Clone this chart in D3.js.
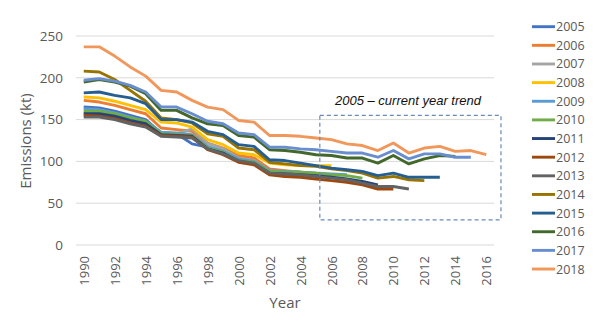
<!DOCTYPE html>
<html>
<head>
<meta charset="utf-8">
<script src="https://cdn.jsdelivr.net/npm/d3@7"></script>
<style>
  body { margin: 0; background: #fff; }
  text { font-family: "Open Sans", "Liberation Sans", sans-serif; }
</style>
</head>
<body>
<div id="main"></div>
<script>
  // inventory submissions, each runs 1990 .. (submission - 2)
  var submissions = [2005, 2006, 2007, 2008, 2009, 2010, 2011, 2012, 2013, 2014, 2015, 2016, 2017, 2018];
  var colors = ["#4472C4", "#ED7D31", "#A5A5A5", "#FFC000", "#5B9BD5", "#70AD47", "#264478",
                "#9E480E", "#636363", "#997300", "#255E91", "#43682B", "#698ED0", "#F1975A"];
  var firstYear = 1990;
  var yTicks = [0, 50, 100, 150, 200, 250];
  var xTicks = [1990, 1992, 1994, 1996, 1998, 2000, 2002, 2004, 2006, 2008, 2010, 2012, 2014, 2016];

  var s2005 = [165,164,160,155,150,134,133,121,117,112,103,100,88,86];
  var s2006 = [173,171,167,162,157,140,138,136,122,116,107,104,91,89,87];
  var s2007 = [158,157,154,149,144,132,133,139,122,115,104,101,89,88,87,86];
  var s2008 = [177,176,172,167,162,147,146,141,126,120,110,108,98,96,95,95,95];
  var s2009 = [163,162,158,153,148,135,134,132,118,112,103,100,89,88,87,86,85,84];
  var s2010 = [160,160,157,152,148,133,132,131,116,111,101,99,88,87,87,86,84,83,80];
  var s2011 = [157,157,154,149,145,132,131,130,115,110,100,97,86,85,84,83,81,79,76,72];
  var s2012 = [155,154,151,146,142,131,130,129,114,108,99,96,84,82,81,79,77,75,72,67,67];
  var s2013 = [153,153,150,145,141,130,129,128,115,109,101,98,86,85,84,82,80,78,74,70,70,67];
  var s2014 = [208,207,198,185,172,152,150,146,133,130,116,114,99,97,95,94,91,89,86,80,82,78,77];
  var s2015 = [182,183,179,176,169,150,150,147,136,132,120,118,102,101,98,95,92,90,88,83,86,81,81,81];
  var s2016 = [195,198,195,190,181,161,161,152,145,143,131,129,114,113,111,108,107,104,104,98,107,97,103,107,106];
  var s2017 = [197,199,196,191,183,165,165,157,148,145,134,132,117,117,115,114,112,110,110,105,113,103,109,109,105,105];
  var s2018 = [237,237,226,213,202,185,183,173,165,162,149,147,131,131,130,128,126,121,119,113,122,110,116,118,112,113,108];

  var series = [s2005, s2006, s2007, s2008, s2009, s2010, s2011, s2012, s2013, s2014, s2015, s2016, s2017, s2018];

  // dashed "trend" box: years and kt
  var boxYears = [2005.25, 2016.95];
  var boxKt = [30, 155];

  var svg = d3.select("#main").append("svg")
      .attr("width", 600)
      .attr("height", 334);

  var x = d3.scaleLinear().domain([1989.5, 2016.5]).range([76, 494]);
  var y = d3.scaleLinear().domain([0, 250]).range([245, 36]);

  // gridlines
  svg.append("g").selectAll("line")
      .data(yTicks)
      .enter().append("line")
      .attr("x1", x(1989.5))
      .attr("x2", x(2016.5))
      .attr("y1", function(d) { return y(d); })
      .attr("y2", function(d) { return y(d); })
      .attr("stroke", "#d9d9d9")
      .attr("stroke-width", 1);

  // y axis
  var yAxis = svg.append("g")
      .attr("transform", "translate(" + x(1989.5) + ",0)")
      .call(d3.axisLeft(y).tickValues(yTicks).tickSize(0).tickPadding(13));
  yAxis.select(".domain").remove();
  yAxis.selectAll("text")
      .attr("fill", "#595959")
      .style("font-size", "13.5px")
      .style("font-family", "Open Sans, sans-serif");

  // x axis
  var xAxis = svg.append("g")
      .attr("transform", "translate(0," + y(0) + ")")
      .call(d3.axisBottom(x).tickValues(xTicks).tickFormat(d3.format("d")).tickSize(0));
  xAxis.select(".domain").remove();
  xAxis.selectAll("text")
      .attr("fill", "#595959")
      .style("font-size", "13px")
      .style("font-family", "Open Sans, sans-serif")
      .attr("text-anchor", "end")
      .attr("transform", "rotate(-90)")
      .attr("x", -11)
      .attr("y", 0)
      .attr("dy", "0.35em");

  // lines
  var line = d3.line()
      .x(function(d, i) { return x(firstYear + i); })
      .y(function(d) { return y(d); });

  svg.append("g").selectAll("path")
      .data(series)
      .enter().append("path")
      .attr("d", line)
      .attr("fill", "none")
      .attr("stroke", function(d, i) { return colors[i]; })
      .attr("stroke-width", 2.9)
      .attr("stroke-linejoin", "round");

  // annotation box
  svg.append("rect")
      .attr("x", x(boxYears[0]))
      .attr("y", y(boxKt[1]))
      .attr("width", x(boxYears[1]) - x(boxYears[0]))
      .attr("height", y(boxKt[0]) - y(boxKt[1]))
      .attr("fill", "none")
      .attr("stroke", "#6a8bb8")
      .attr("stroke-width", 1.2)
      .attr("stroke-dasharray", "4,3");

  svg.append("text")
      .attr("x", 408)
      .attr("y", 105)
      .attr("text-anchor", "middle")
      .style("font-family", "Liberation Sans, Arial, sans-serif")
      .style("font-style", "italic")
      .style("font-size", "13px")
      .attr("fill", "#111")
      .text("2005 \u2013 current year trend");

  // axis titles
  svg.append("text")
      .attr("transform", "translate(31,141) rotate(-90)")
      .attr("text-anchor", "middle")
      .attr("fill", "#595959")
      .style("font-size", "15px")
      .text("Emissions (kt)");

  svg.append("text")
      .attr("x", 285)
      .attr("y", 308)
      .attr("text-anchor", "middle")
      .attr("fill", "#595959")
      .style("font-size", "15px")
      .text("Year");

  // legend
  var legend = svg.append("g").selectAll("g")
      .data(submissions)
      .enter().append("g")
      .attr("transform", function(d, i) { return "translate(532," + (26.7 + i * 18.64) + ")"; });

  legend.append("line")
      .attr("x1", 0)
      .attr("x2", 23)
      .attr("stroke", function(d, i) { return colors[i]; })
      .attr("stroke-width", 2.9);

  legend.append("text")
      .attr("x", 24)
      .attr("dy", "0.36em")
      .attr("fill", "#595959")
      .style("font-size", "12.5px")
      .text(function(d) { return d; });
</script>
</body>
</html>
